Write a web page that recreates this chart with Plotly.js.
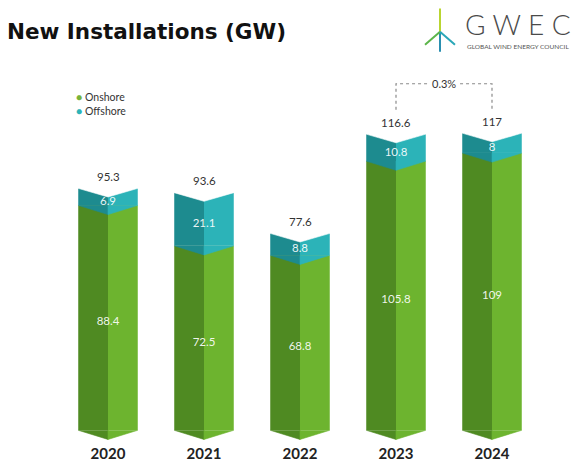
<!DOCTYPE html>
<html>
<head>
<meta charset="utf-8">
<script src="https://cdn.plot.ly/plotly-3.0.1.min.js"></script>
<style>
html,body{margin:0;padding:0;background:#fff;}
#chart{width:578px;height:463px;}
</style>
</head>
<body>
<div id="chart"></div>
<script>
// ---- data ----
const years = ['2020', '2021', '2022', '2023', '2024'];
const onshore = [88.4, 72.5, 68.8, 105.8, 109];
const offshore = [6.9, 21.1, 8.8, 10.8, 8];
const totals = [95.3, 93.6, 77.6, 116.6, 117];
const growthFrom = 3, growthTo = 4;
const growthLabel = '0.3%';
const seriesNames = ['Onshore', 'Offshore'];

// ---- style ----
const C = {
  onDark: '#4f8a22', onLight: '#6db42f',
  offDark: '#1d8b8f', offLight: '#2cb3b8'
};
const W = 0.31;   // half bar width (axis units)
const D = 3.6;    // fold depth (GW)

const idx = years.map((_, i) => i);

function poly(fn) {
  const xs = [], ys = [];
  idx.forEach(i => {
    fn(i).forEach(p => { xs.push(p[0]); ys.push(p[1]); });
    xs.push(null); ys.push(null);
  });
  return {xs, ys};
}
function fillTrace(p, color) {
  return {type: 'scatter', mode: 'lines', x: p.xs, y: p.ys, fill: 'toself',
    fillcolor: color, line: {color: color, width: 0.6}, hoverinfo: 'skip', showlegend: false};
}

const bar = (y, base, off, color, name) => ({
  type: 'bar', x: idx, y: y, base: base, offset: off, width: W,
  marker: {color: color, line: {width: 0}}, name: name, showlegend: false, hoverinfo: 'skip'
});

const traces = [
  bar(onshore, 0, -W, C.onDark, seriesNames[0]),
  bar(onshore, 0, 0, C.onLight, seriesNames[0]),
  bar(offshore, onshore, -W, C.offDark, seriesNames[1]),
  bar(offshore, onshore, 0, C.offLight, seriesNames[1]),
  fillTrace(poly(i => [[i - W, 0], [i, -D], [i, 0]]), C.onDark),
  fillTrace(poly(i => [[i, 0], [i, -D], [i + W, 0]]), C.onLight),
  fillTrace(poly(i => [[i - W, onshore[i]], [i, onshore[i] - D], [i, onshore[i]]]), C.offDark),
  fillTrace(poly(i => [[i, onshore[i]], [i, onshore[i] - D], [i + W, onshore[i]]]), C.offLight),
  fillTrace(poly(i => [[i - W - 0.02, totals[i]], [i, totals[i] - D], [i + W + 0.02, totals[i]],
                       [i + W + 0.02, totals[i] + 1.5], [i - W - 0.02, totals[i] + 1.5]]), '#ffffff'),
  {type: 'scatter', mode: 'text', x: idx, y: onshore.map(v => v / 2 - D / 2),
   text: onshore.map(String), textfont: {family: 'Lato', size: 11.5, color: 'rgba(255,255,255,0.92)'},
   hoverinfo: 'skip', showlegend: false},
  {type: 'scatter', mode: 'text', x: idx, y: onshore.map((v, i) => v + offshore[i] / 2 - D * 0.6),
   text: offshore.map(String), textfont: {family: 'Lato', size: 11.5, color: 'rgba(255,255,255,0.92)'},
   hoverinfo: 'skip', showlegend: false}
];

// pixel -> paper helpers for decorations
const PL = 60, PW = 480, PB = 442.7, PH = 373.4;
const px = v => (v - PL) / PW;
const py = v => (PB - v) / PH;

const annotations = totals.map((t, i) => ({
  x: i, y: t, xref: 'x', yref: 'y', text: String(t), showarrow: false,
  yanchor: 'bottom', yshift: 3, font: {family: 'Lato', size: 11.5, color: '#333'}
}));

const bracketTop = totals[growthTo] + 19.2;
const bracketBottom = totals[growthTo] + 9;
annotations.push({
  x: (growthFrom + growthTo) / 2, y: bracketTop, xref: 'x', yref: 'y', text: growthLabel,
  showarrow: false, bgcolor: '#ffffff', borderpad: 3,
  font: {family: 'Lato', size: 11, color: '#333'}
});

// legend
annotations.push(
  {xref: 'paper', yref: 'paper', x: px(74), y: py(97), xanchor: 'left', yanchor: 'middle', showarrow: false,
   text: '<span style="color:#78b33a">●</span> ' + seriesNames[0], font: {family: 'Lato', size: 10.5, color: '#333'}},
  {xref: 'paper', yref: 'paper', x: px(74), y: py(111), xanchor: 'left', yanchor: 'middle', showarrow: false,
   text: '<span style="color:#2cb3b8">●</span> ' + seriesNames[1], font: {family: 'Lato', size: 10.5, color: '#333'}}
);

// logo text
annotations.push(
  {xref: 'paper', yref: 'paper', x: px(518), y: py(24), xanchor: 'center', yanchor: 'middle', showarrow: false,
   text: 'G W E C', font: {family: 'Lato', size: 28, weight: 300, color: '#4a4a4a'}},
  {xref: 'paper', yref: 'paper', x: px(518), y: py(47), xanchor: 'center', yanchor: 'middle', showarrow: false,
   text: 'GLOBAL WIND ENERGY COUNCIL', font: {family: 'Lato', size: 6.5, color: '#555'}}
);

const shapes = [
  {type: 'path', xref: 'x', yref: 'y',
   path: `M ${growthFrom} ${bracketBottom} L ${growthFrom} ${bracketTop} L ${growthTo} ${bracketTop} L ${growthTo} ${bracketBottom}`,
   line: {color: '#8a8a8a', width: 1.2, dash: 'dot'}},
  // turbine logo
  {type: 'line', xref: 'paper', yref: 'paper', x0: px(440), y0: py(9), x1: px(440), y1: py(32), line: {color: '#b9d531', width: 2}},
  {type: 'line', xref: 'paper', yref: 'paper', x0: px(440), y0: py(32), x1: px(440), y1: py(52), line: {color: '#2a8fb0', width: 2}},
  {type: 'line', xref: 'paper', yref: 'paper', x0: px(440), y0: py(32), x1: px(425), y1: py(45), line: {color: '#5cb54a', width: 2}},
  {type: 'line', xref: 'paper', yref: 'paper', x0: px(440), y0: py(32), x1: px(455), y1: py(45), line: {color: '#2aa7b8', width: 2}}
];

const layout = {
  width: 578, height: 463,
  margin: {l: PL, r: 578 - PL - PW, t: PB - PH, b: 463 - PB},
  paper_bgcolor: '#ffffff', plot_bgcolor: '#ffffff',
  barmode: 'overlay', showlegend: false,
  title: {text: 'New Installations (GW)', x: 0.012, xanchor: 'left', xref: 'container',
          y: 1 - 31 / 463, yanchor: 'middle', yref: 'container',
          font: {family: 'DejaVu Sans', size: 21.5, weight: 700, color: '#111'}},
  xaxis: {range: [-0.5, 4.5], tickvals: idx, ticktext: years, showgrid: false, zeroline: false,
          showline: false, ticks: '', fixedrange: true,
          tickfont: {family: 'Lato', size: 15, weight: 700, color: '#222'}},
  yaxis: {range: [-5, 142], showgrid: false, zeroline: false, showline: false,
          showticklabels: false, ticks: '', fixedrange: true},
  annotations: annotations,
  shapes: shapes
};

Plotly.newPlot('chart', traces, layout, {displayModeBar: false, staticPlot: true});
</script>
</body>
</html>
